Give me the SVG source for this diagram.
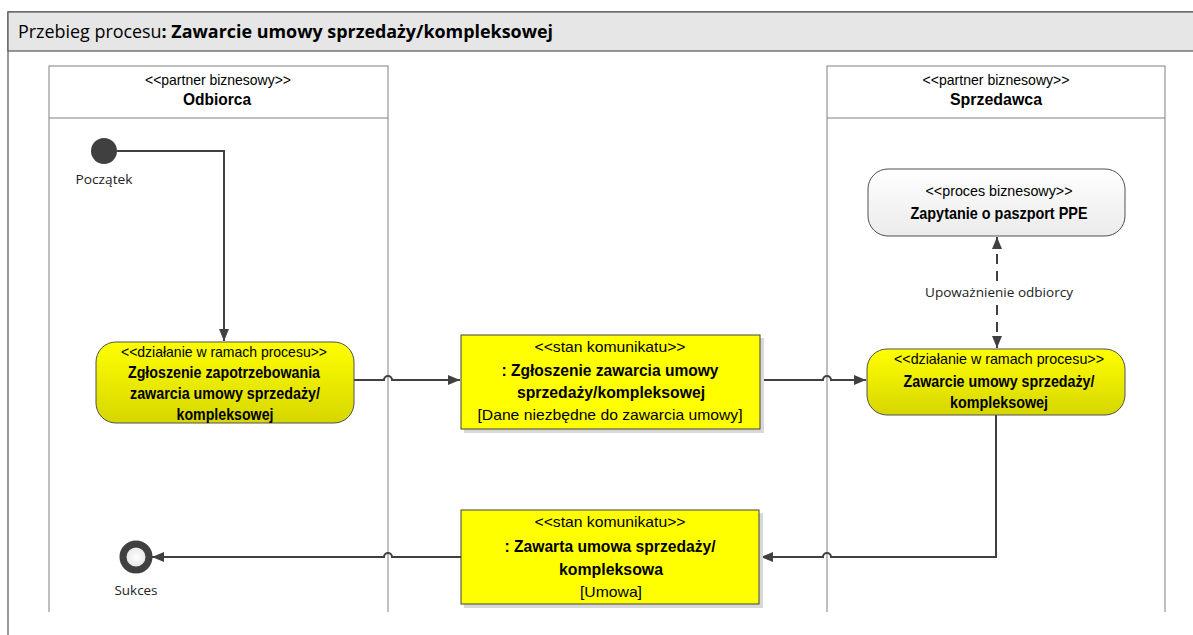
<svg xmlns="http://www.w3.org/2000/svg" width="1193" height="635" viewBox="0 0 1193 635">
<defs>
<linearGradient id="yg" x1="0" y1="0" x2="0" y2="1"><stop offset="0" stop-color="#FFFF00"/><stop offset="1" stop-color="#D6D600"/></linearGradient>
<linearGradient id="wg" x1="0" y1="0" x2="0" y2="1"><stop offset="0" stop-color="#FFFFFF"/><stop offset="1" stop-color="#EBEBEB"/></linearGradient>
<radialGradient id="eg"><stop offset="0" stop-color="#FFFFFF"/><stop offset="1" stop-color="#E0E0E0"/></radialGradient>
<marker id="ah" viewBox="0 0 12 10" refX="12" refY="5" markerWidth="12" markerHeight="10" markerUnits="userSpaceOnUse" orient="auto"><path d="M0,0 L12,5 L0,10 Z" fill="#404040"/></marker>
<marker id="ahs" viewBox="0 0 12 10" refX="0" refY="5" markerWidth="12" markerHeight="10" markerUnits="userSpaceOnUse" orient="auto"><path d="M12,0 L0,5 L12,10 Z" fill="#404040"/></marker>
</defs>
<style>
.frame{fill:#fff;stroke:#555;stroke-width:1.2}
.hdr{fill:#E6E6E6;stroke:#555;stroke-width:1.2}
.lane{fill:#fff;stroke:#808080;stroke-width:1}
.st{font-family:"Liberation Sans",sans-serif;font-size:14.5px;fill:#000;text-anchor:middle}
.b{font-family:"Liberation Sans",sans-serif;font-size:17px;font-weight:bold;fill:#000;text-anchor:middle}
.cal{font-family:"Open Sans","Liberation Sans",sans-serif;font-size:13.5px;fill:#222;text-anchor:middle}
.act{fill:url(#yg);stroke:#505050;stroke-width:1}
.msg{fill:#FFFF00;stroke:#404040;stroke-width:1}
.shadow{fill:#D8D8D8}
.con{fill:none;stroke:#404040;stroke-width:2}
</style>
<g id="frame">
<rect class="frame" x="8" y="12" width="1195" height="640"/>
<rect class="hdr" x="8" y="12" width="1195" height="39"/>
<text x="18" y="38" font-family="Open Sans, Liberation Sans, sans-serif" font-size="17.5" fill="#000" textLength="535" lengthAdjust="spacingAndGlyphs">Przebieg procesu<tspan font-weight="bold">: Zawarcie umowy sprzedaży/kompleksowej</tspan></text>
</g>
<g id="lane-odbiorca">
<rect class="lane" x="49" y="66" width="339" height="560"/>
<line x1="49" y1="118" x2="388" y2="118" stroke="#808080"/>
<text class="st" x="218" y="85" textLength="146" lengthAdjust="spacingAndGlyphs">&lt;&lt;partner biznesowy&gt;&gt;</text>
<text class="b" x="217" y="105" textLength="68" lengthAdjust="spacingAndGlyphs">Odbiorca</text>
</g>
<g id="lane-sprzedawca">
<rect class="lane" x="827" y="66" width="338" height="560"/>
<line x1="827" y1="118" x2="1165" y2="118" stroke="#808080"/>
<text class="st" x="996" y="85" textLength="147" lengthAdjust="spacingAndGlyphs">&lt;&lt;partner biznesowy&gt;&gt;</text>
<text class="b" x="996" y="105" textLength="92" lengthAdjust="spacingAndGlyphs">Sprzedawca</text>
</g>
<rect x="0" y="612" width="1193" height="23" fill="#fff"/>
<line x1="8" y1="612" x2="8" y2="635" stroke="#555" stroke-width="1.2"/>
<g id="connectors">
<path class="con" d="M117,151 H224 V341" marker-end="url(#ah)"/>
<path class="con" d="M354,380 H384 a4,4 0 0 1 8,0 H460" marker-end="url(#ah)"/>
<path class="con" d="M760,380 H823 a4,4 0 0 1 8,0 H866" marker-end="url(#ah)"/>
<path class="con" d="M997,237 V348" stroke-dasharray="10,7" marker-start="url(#ahs)" marker-end="url(#ah)"/>
<rect x="918" y="282" width="158" height="20" fill="#fff"/>
<text class="cal" x="999" y="297" textLength="148" lengthAdjust="spacingAndGlyphs">Upoważnienie odbiorcy</text>
<path class="con" d="M996,415 V557 H831 a4,4 0 0 0 -8,0 H761" marker-end="url(#ah)"/>
<path class="con" d="M461,557 H392 a4,4 0 0 0 -8,0 H152" marker-end="url(#ah)"/>
</g>
<g id="start">
<circle cx="104" cy="151" r="13" fill="#404040"/>
<text class="cal" x="104" y="184" textLength="57" lengthAdjust="spacingAndGlyphs">Początek</text>
</g>
<g id="act1">
<rect class="act" x="96" y="342" width="258" height="81" rx="20"/>
<text class="st" x="224" y="357" textLength="206" lengthAdjust="spacingAndGlyphs">&lt;&lt;działanie w ramach procesu&gt;&gt;</text>
<text class="b" x="224" y="378" textLength="192" lengthAdjust="spacingAndGlyphs">Zgłoszenie zapotrzebowania</text>
<text class="b" x="225" y="399" textLength="190" lengthAdjust="spacingAndGlyphs">zawarcia umowy sprzedaży/</text>
<text class="b" x="225" y="420" textLength="97" lengthAdjust="spacingAndGlyphs">kompleksowej</text>
</g>
<g id="msg1">
<rect class="shadow" x="464" y="338" width="300" height="95"/>
<rect class="msg" x="461" y="335" width="299" height="94"/>
<text class="st" x="610" y="352" textLength="151" lengthAdjust="spacingAndGlyphs">&lt;&lt;stan komunikatu&gt;&gt;</text>
<text class="b" x="610" y="376" textLength="217" lengthAdjust="spacingAndGlyphs">: Zgłoszenie zawarcia umowy</text>
<text class="b" x="611" y="398" textLength="188" lengthAdjust="spacingAndGlyphs">sprzedaży/kompleksowej</text>
<text class="st" x="610" y="420" textLength="265" lengthAdjust="spacingAndGlyphs">[Dane niezbędne do zawarcia umowy]</text>
</g>
<g id="proc">
<rect x="868" y="169" width="257" height="67" rx="20" fill="url(#wg)" stroke="#505050"/>
<text class="st" x="999" y="196" textLength="147" lengthAdjust="spacingAndGlyphs">&lt;&lt;proces biznesowy&gt;&gt;</text>
<text class="b" x="999" y="219" textLength="177" lengthAdjust="spacingAndGlyphs">Zapytanie o paszport PPE</text>
</g>
<g id="act2">
<rect class="act" x="867" y="349" width="258" height="66" rx="20"/>
<text class="st" x="999" y="364" textLength="210" lengthAdjust="spacingAndGlyphs">&lt;&lt;działanie w ramach procesu&gt;&gt;</text>
<text class="b" x="999" y="387" textLength="191" lengthAdjust="spacingAndGlyphs">Zawarcie umowy sprzedaży/</text>
<text class="b" x="999" y="408" textLength="98" lengthAdjust="spacingAndGlyphs">kompleksowej</text>
</g>
<g id="msg2">
<rect class="shadow" x="464" y="513" width="299" height="95"/>
<rect class="msg" x="461" y="510" width="298" height="94"/>
<text class="st" x="610" y="527" textLength="151" lengthAdjust="spacingAndGlyphs">&lt;&lt;stan komunikatu&gt;&gt;</text>
<text class="b" x="610" y="552" textLength="211" lengthAdjust="spacingAndGlyphs">: Zawarta umowa sprzedaży/</text>
<text class="b" x="611" y="575" textLength="104" lengthAdjust="spacingAndGlyphs">kompleksowa</text>
<text class="st" x="611" y="597" textLength="62" lengthAdjust="spacingAndGlyphs">[Umowa]</text>
</g>
<g id="end">
<circle cx="136" cy="557" r="13" fill="url(#eg)" stroke="#404040" stroke-width="7"/>
<text class="cal" x="136" y="595" textLength="43" lengthAdjust="spacingAndGlyphs">Sukces</text>
</g>
</svg>
